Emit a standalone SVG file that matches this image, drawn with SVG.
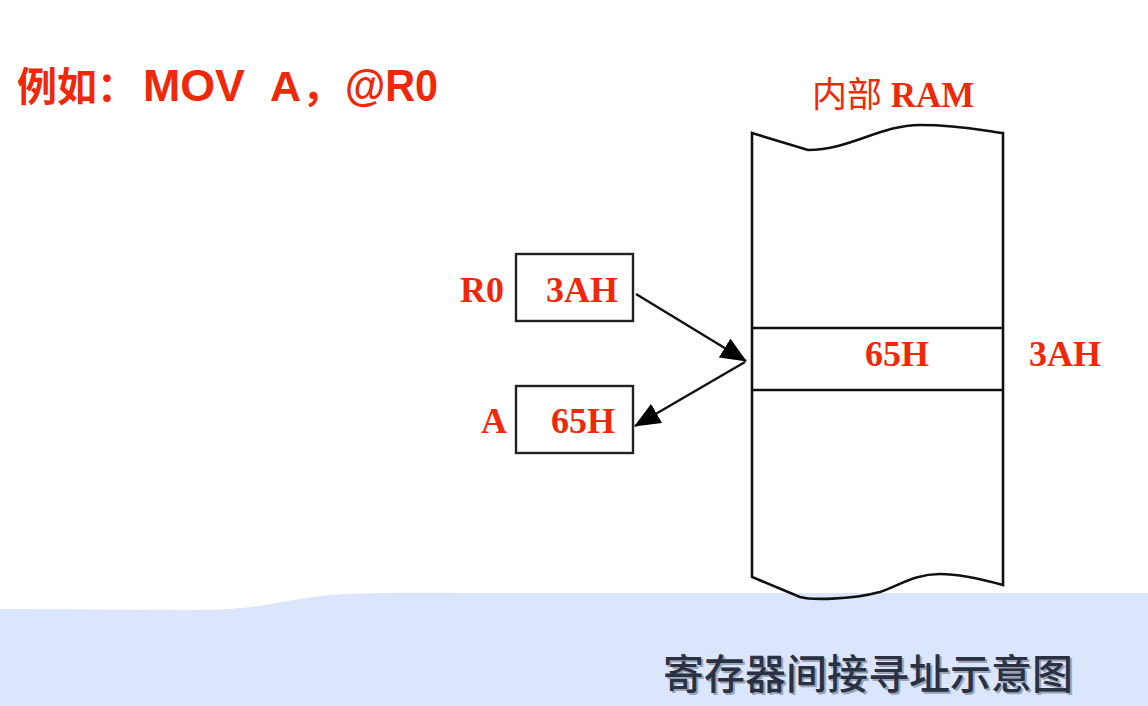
<svg xmlns="http://www.w3.org/2000/svg" width="1148" height="706" viewBox="0 0 1148 706">
<defs>
<style>
.red{fill:#f0280a}
.ser{font-family:"Liberation Serif","Noto Sans CJK SC",serif;font-weight:bold;font-size:36px}
.ln{fill:none;stroke:#111;stroke-width:2.6}
.box{fill:#fff;stroke:#222;stroke-width:2.4}
.big{font-size:45px}
</style>
<marker id="tri" viewBox="0 0 26 22" refX="25" refY="11" markerWidth="26" markerHeight="22" markerUnits="userSpaceOnUse" orient="auto">
<path d="M0,0 L26,11 L0,22 z" fill="#000"/>
</marker>
</defs>
<rect width="1148" height="706" fill="#fff"/>
<g id="band">
<path d="M0,609 L200,610 C260,610 280,600 330,595 C380,592 420,593 480,593 L1148,593 L1148,706 L0,706 z" fill="#dbe6fc"/>
</g>
<g id="title">
<text class="red" y="101" style="font-family:'Liberation Sans','Noto Sans CJK SC',sans-serif;font-weight:bold;font-size:40px">
<tspan x="17">例如：</tspan><tspan class="big" x="143" textLength="102" lengthAdjust="spacingAndGlyphs">MOV</tspan><tspan x="270" style="font-size:43px">A</tspan><tspan x="302">，</tspan><tspan class="big" x="345" textLength="93" lengthAdjust="spacingAndGlyphs">@R0</tspan>
</text>
</g>
<g id="ram">
<path class="ln" d="M752,133 L808,150 C850,150 880,125 920,125 C960,125 980,130 1003,133 L1003,585 C985,580 960,574 940,574 C915,574 900,585 880,592 C850,600 810,600 800,597 L752,577 Z" fill="#fff"/>
<line class="ln" x1="752" y1="328" x2="1003" y2="328"/>
<line class="ln" x1="752" y1="390" x2="1003" y2="390"/>
<text class="red ser" x="812" y="107" style="font-size:35px"><tspan style="font-weight:normal">内部</tspan> RAM</text>
<text class="red ser" x="865" y="366">65H</text>
<text class="red ser" x="1029" y="366">3AH</text>
</g>
<g id="r0">
<rect class="box" x="516" y="254" width="117" height="67"/>
<text class="red ser" x="460" y="302">R0</text>
<text class="red ser" x="546" y="302">3AH</text>
</g>
<g id="a">
<rect class="box" x="516" y="386" width="117" height="67"/>
<text class="red ser" x="481" y="433">A</text>
<text class="red ser" x="551" y="433">65H</text>
</g>
<g id="connectors">
<line x1="636" y1="294" x2="746" y2="361" stroke="#111" stroke-width="2.4" marker-end="url(#tri)"/>
<line x1="745" y1="362" x2="635" y2="426" stroke="#111" stroke-width="2.4" marker-end="url(#tri)"/>
</g>
<g id="caption">
<text x="665" y="691" fill="#9aa3b5" style="font-family:'Noto Sans CJK SC',sans-serif;font-weight:500;font-size:41px">寄存器间接寻址示意图</text>
<text x="663" y="689" fill="#2a3142" style="font-family:'Noto Sans CJK SC',sans-serif;font-weight:500;font-size:41px">寄存器间接寻址示意图</text>
</g>
</svg>
